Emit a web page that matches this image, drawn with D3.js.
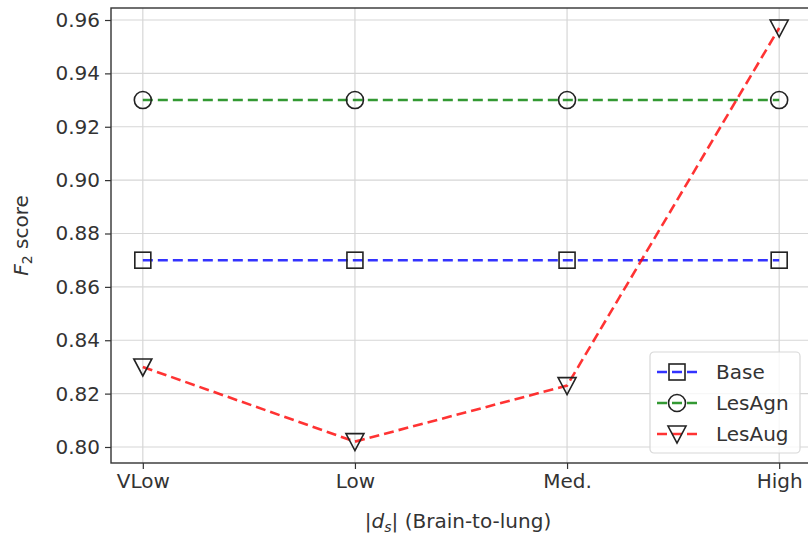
<!DOCTYPE html>
<html>
<head>
<meta charset="utf-8">
<script src="https://cdn.jsdelivr.net/npm/d3@7"></script>
<style>
  body { margin: 0; background: #fff; }
  svg { display: block; font-family: "DejaVu Sans", sans-serif; }
</style>
</head>
<body>
<svg id="chart" width="808" height="535"></svg>
<script>
// data
var categories = ['VLow', 'Low', 'Med.', 'High'];
var baseScores = [0.87, 0.87, 0.87, 0.87];
var lesAgnScores = [0.93, 0.93, 0.93, 0.93];
var lesAugScores = [0.83, 0.802, 0.823, 0.957];
var yTicks = [0.80, 0.82, 0.84, 0.86, 0.88, 0.90, 0.92, 0.94, 0.96];

var series = [
  { name: 'Base', values: baseScores, color: 'rgba(0,0,255,0.8)', marker: 'square' },
  { name: 'LesAgn', values: lesAgnScores, color: 'rgba(0,128,0,0.8)', marker: 'circle' },
  { name: 'LesAug', values: lesAugScores, color: 'rgba(255,0,0,0.8)', marker: 'triangle' }
];

var svg = d3.select('#chart'),
  pLeft = 111, pRight = 811, pTop = 8, pBottom = 463,
  fontSize = 20;

var x = d3.scaleLinear().domain([-0.15, 3.15]).range([pLeft, pRight]);
var y = d3.scaleLinear().domain([0.794, 0.9645]).range([pBottom, pTop]);

// grid
var grid = svg.append('g');
grid.selectAll('.gx').data(categories).enter().append('line')
  .attr('x1', function(d, i) { return x(i); })
  .attr('x2', function(d, i) { return x(i); })
  .attr('y1', pTop).attr('y2', pBottom)
  .attr('stroke', '#d6d6d6').attr('stroke-width', 1.2);
grid.selectAll('.gy').data(yTicks).enter().append('line')
  .attr('x1', pLeft).attr('x2', pRight)
  .attr('y1', function(d) { return y(d); })
  .attr('y2', function(d) { return y(d); })
  .attr('stroke', '#d6d6d6').attr('stroke-width', 1.2);

// axes
var xAxis = d3.axisBottom(x)
  .tickValues(d3.range(categories.length))
  .tickFormat(function(d) { return categories[d]; })
  .tickSize(6).tickPadding(5);
var yAxis = d3.axisLeft(y)
  .tickValues(yTicks)
  .tickFormat(d3.format('.2f'))
  .tickSize(6).tickPadding(5);

var gx = svg.append('g').attr('transform', 'translate(0,' + pBottom + ')').call(xAxis);
var gy = svg.append('g').attr('transform', 'translate(' + pLeft + ',0)').call(yAxis);
[gx, gy].forEach(function(g) {
  g.select('.domain').remove();
  g.selectAll('.tick line').attr('stroke', '#333').attr('stroke-width', 1.2);
  g.selectAll('.tick text').attr('fill', '#333')
    .style('font-size', fontSize + 'px').style('font-family', '"DejaVu Sans", sans-serif');
});

// spines
svg.append('rect')
  .attr('x', pLeft).attr('y', pTop)
  .attr('width', pRight - pLeft).attr('height', pBottom - pTop)
  .attr('fill', 'none').attr('stroke', '#333').attr('stroke-width', 1.4);

// markers
function drawMarker(g, type, cx, cy) {
  if (type === 'square') {
    g.append('rect').attr('x', cx - 8).attr('y', cy - 8).attr('width', 16).attr('height', 16)
      .attr('fill', 'none').attr('stroke', '#222').attr('stroke-width', 1.6);
  } else if (type === 'circle') {
    g.append('circle').attr('cx', cx).attr('cy', cy).attr('r', 8.5)
      .attr('fill', 'none').attr('stroke', '#222').attr('stroke-width', 1.6);
  } else {
    g.append('path')
      .attr('d', 'M' + (cx - 9) + ',' + (cy - 8) + 'L' + (cx + 9) + ',' + (cy - 8) + 'L' + cx + ',' + (cy + 9) + 'Z')
      .attr('fill', 'none').attr('stroke', '#222').attr('stroke-width', 1.6);
  }
}

var line = d3.line()
  .x(function(d, i) { return x(i); })
  .y(function(d) { return y(d); });

series.forEach(function(s) {
  var g = svg.append('g');
  g.append('path').datum(s.values)
    .attr('d', line)
    .attr('fill', 'none')
    .attr('stroke', s.color)
    .attr('stroke-width', 2.6)
    .attr('stroke-dasharray', '10,5');
  s.values.forEach(function(v, i) { drawMarker(g, s.marker, x(i), y(v)); });
});

// legend
var legend = svg.append('g').attr('transform', 'translate(650,352)');
legend.append('rect').attr('x', 0).attr('y', 0).attr('width', 150).attr('height', 101)
  .attr('rx', 4).attr('fill', 'rgba(255,255,255,0.8)').attr('stroke', '#d8d8d8').attr('stroke-width', 1.2);
series.forEach(function(s, i) {
  var ly = 20 + i * 31;
  legend.append('line').attr('x1', 7).attr('x2', 47).attr('y1', ly).attr('y2', ly)
    .attr('stroke', s.color).attr('stroke-width', 2.6).attr('stroke-dasharray', '10,5');
  drawMarker(legend, s.marker, 27, ly);
  legend.append('text').attr('x', 66).attr('y', ly).attr('dy', '0.35em')
    .attr('fill', '#333').style('font-size', fontSize + 'px').text(s.name);
});

// axis labels
svg.append('text')
  .attr('x', (pLeft + pRight) / 2 - 3).attr('y', 528)
  .attr('text-anchor', 'middle').attr('fill', '#333').style('font-size', fontSize + 'px')
  .html('|<tspan font-style="italic">d</tspan><tspan font-style="italic" font-size="14" dy="4">s</tspan><tspan dy="-4">| (Brain-to-lung)</tspan>');

svg.append('text')
  .attr('transform', 'translate(28,' + ((pTop + pBottom) / 2) + ') rotate(-90)')
  .attr('text-anchor', 'middle').attr('fill', '#333').style('font-size', fontSize + 'px')
  .html('<tspan font-style="italic">F</tspan><tspan font-size="14" dy="4">2</tspan><tspan dy="-4"> score</tspan>');
</script>
</body>
</html>
